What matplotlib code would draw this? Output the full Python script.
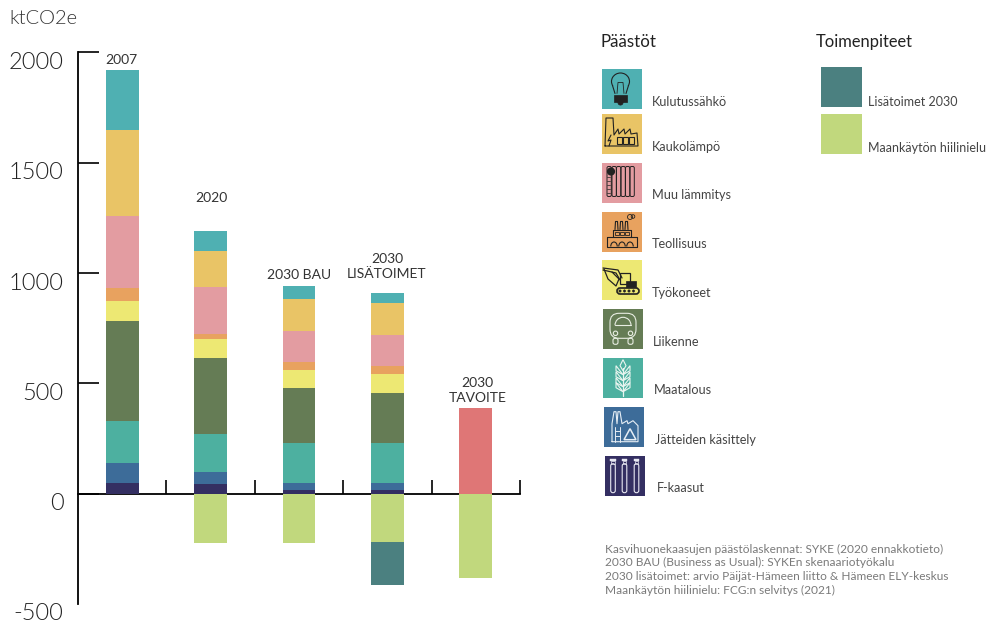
import matplotlib
matplotlib.use('Agg')
import matplotlib.pyplot as plt
from matplotlib import font_manager
from matplotlib.patches import Rectangle, Circle, FancyBboxPatch, Arc, Polygon
from matplotlib.transforms import ScaledTranslation

plt.rcParams['font.family'] = ['Lato', 'DejaVu Sans']
plt.rcParams['axes.unicode_minus'] = False

# Lato Light if its file is there, "light" by weight picks the hairline cut
light_files = [f.fname for f in font_manager.fontManager.ttflist
               if f.name == 'Lato' and f.fname.endswith('Lato-Light.ttf')]
if light_files:
    light_font = font_manager.FontProperties(fname=light_files[0])
else:
    light_font = font_manager.FontProperties(family='Lato')

# Data (ktCO2e)
categories = ['2007', '2020', '2030 BAU', '2030\nLISÄTOIMET', '2030\nTAVOITE']
sectors = ['F-kaasut', 'Jätteiden käsittely', 'Maatalous', 'Liikenne', 'Työkoneet',
           'Teollisuus', 'Muu lämmitys', 'Kaukolämpö', 'Kulutussähkö']
f_kaasut = [48, 43, 17, 17, 0]
jatteet = [91, 54, 33, 33, 0]
maatalous = [192, 172, 180, 180, 0]
liikenne = [451, 345, 251, 227, 0]
tyokoneet = [92, 86, 82, 86, 0]
teollisuus = [59, 24, 35, 36, 0]
muu_lammitys = [327, 213, 141, 141, 0]
kaukolampo = [390, 165, 145, 144, 0]
kulutussahko = [272, 91, 59, 47, 0]
tavoite = [0, 0, 0, 0, 387]
hiilinielu = [0, -222, -222, -219, -384]
lisatoimet = [0, 0, 0, -195, 0]
yticks = [-500, 0, 500, 1000, 1500, 2000]

sector_values = [f_kaasut, jatteet, maatalous, liikenne, tyokoneet,
                 teollisuus, muu_lammitys, kaukolampo, kulutussahko]
sector_colors = ['#342F62', '#3D6C99', '#4DB0A0', '#657C55', '#EDE873',
                 '#E8A25F', '#E39CA1', '#E9C466', '#4FB0B2']
red = '#DF7676'
green = '#C1D87D'
teal = '#4B8080'
dark = '#333333'

W, H = 986, 624
fig = plt.figure(figsize=(W / 100, H / 100), dpi=100)
ax = fig.add_axes([78 / W, 1 - 604 / H, 442 / W, 551.5 / H])

# Stacked bars
x = list(range(len(categories)))
bar_w = 0.373
bottom = [0] * len(x)
for vals, col in zip(sector_values, sector_colors):
    ax.bar(x, vals, bar_w, bottom=bottom, color=col, zorder=3)
    bottom = [b + v for b, v in zip(bottom, vals)]
ax.bar(x, tavoite, bar_w, color=red, zorder=3)
ax.bar(x, hiilinielu, bar_w, color=green, zorder=3)
ax.bar(x, lisatoimet, bar_w, bottom=hiilinielu, color=teal, zorder=3)

ax.set_xlim(-0.5, 4.5)
ax.set_ylim(-500, 2000)
for s in ['top', 'right']:
    ax.spines[s].set_visible(False)
ax.spines['left'].set_linewidth(1.3)
ax.spines['bottom'].set_position(('data', 0))
ax.spines['bottom'].set_linewidth(1.3)
ax.spines['bottom'].set_zorder(2)
ax.set_xticks([0.5, 1.5, 2.5, 3.5, 4.5])
ax.set_xticklabels([])
ax.tick_params(axis='x', direction='in', length=10, width=1.2)
ax.set_yticks(yticks)
ax.tick_params(axis='y', direction='in', length=15, width=1.2, pad=10.5, labelcolor='#222222')
for tick, val in zip(ax.yaxis.get_major_ticks(), yticks):
    if val == -500:
        tick.tick1line.set_visible(False)
for lab in ax.get_yticklabels():
    lab.set_fontproperties(light_font)
    lab.set_fontsize(17)
    lab.set_transform(lab.get_transform() + ScaledTranslation(0, -8 / 100, fig.dpi_scale_trans))

# Category labels above the bars
label_gaps = [10, 33, 11, 26, 18]
label_shift = [-1, 0.5, 0, -0.5, 1.5]
totals = [b + t for b, t in zip(bottom, tavoite)]
for i, name in enumerate(categories):
    ax.annotate(name, (i, totals[i]), xytext=(label_shift[i], label_gaps[i]),
                textcoords='offset pixels', ha='center', va='center',
                fontsize=10, color=dark, linespacing=1.33)

# Overlay in pixel coordinates for unit label, legend and sources
ov = fig.add_axes([0, 0, 1, 1], zorder=5)
ov.set_xlim(0, W)
ov.set_ylim(H, 0)
ov.axis('off')
ov.patch.set_alpha(0)

ktco2 = ov.text(9, 18, 'ktCO2e', color=dark, va='center')
ktco2.set_fontproperties(light_font)
ktco2.set_fontsize(14.5)
ov.text(601, 42, 'Päästöt', fontsize=12.2, color='#222222', va='center')
ov.text(816, 42, 'Toimenpiteet', fontsize=11.9, color='#222222', va='center')


def ln(ox, oy, pts, col, lw=0.8):
    ov.plot([ox + p[0] for p in pts], [oy + p[1] for p in pts], color=col, lw=lw,
            solid_capstyle='round', solid_joinstyle='round')


def rr(ox, oy, x0, y0, w, h, col, lw=0.8, r=1.5):
    ov.add_patch(FancyBboxPatch((ox + x0, oy + y0), w, h, boxstyle=f'round,pad=0,rounding_size={r}',
                                fc='none', ec=col, lw=lw))


def icon_bulb(ox, oy):
    k = '#222222'
    ov.add_patch(Arc((ox + 18.5, oy + 13), 18, 17, theta1=150, theta2=390, ec=k, lw=0.8))
    ln(ox, oy, [(10.5, 17), (13, 25)], k)
    ln(ox, oy, [(26.5, 17), (24, 25)], k)
    ln(ox, oy, [(15, 25), (16, 14), (21, 14), (22, 25)], k, 0.6)
    ov.add_patch(Rectangle((ox + 12, oy + 26), 13, 7, fc=k, ec=k, lw=0.5))
    ov.add_patch(Circle((ox + 18.5, oy + 34), 2.6, fc=k, ec=k, lw=0.5))


def icon_factory(ox, oy):
    k = '#222222'
    ln(ox, oy, [(3, 32), (4, 4), (11, 4), (12, 21), (16, 15), (17, 20), (22, 15), (23, 20),
                (28, 15), (29, 20), (35, 19), (36, 32), (3, 32)], k)
    for wx in [15, 21, 27]:
        ov.add_patch(Rectangle((ox + wx, oy + 23), 4.6, 7, fc='none', ec=k, lw=0.8))
    ln(ox, oy, [(9, 21), (6, 27), (9, 26), (7, 32)], k, 0.8)


def icon_radiator(ox, oy):
    k = '#222222'
    for rx in [5, 10, 14.5, 19, 23.5, 28]:
        rr(ox, oy, rx, 4, 4.3, 30, k, 0.7, 1.5)
    ov.add_patch(Circle((ox + 9, oy + 9), 3.4, fc=k, ec=k))
    for my in [14, 18, 22, 26, 30]:
        ln(ox, oy, [(5, my), (8, my)], k, 0.5)


def icon_industry(ox, oy):
    k = '#222222'
    ln(ox, oy, [(5, 25), (5, 35), (35, 35), (35, 25), (5, 25)], k)
    for ax_ in [12, 20, 28]:
        ov.add_patch(Arc((ox + ax_, oy + 35), 6.5, 9, theta1=180, theta2=360, ec=k, lw=0.8))
    ln(ox, oy, [(11, 25), (11, 18), (29, 18), (29, 25)], k)
    for bx in [13, 18, 23]:
        ov.add_patch(Rectangle((ox + bx, oy + 20), 3.5, 3, fc='none', ec=k, lw=0.6))
    for cx in [13, 18, 23]:
        ln(ox, oy, [(cx, 18), (cx + 0.5, 10), (cx + 2.5, 10), (cx + 3, 18)], k)
    ov.add_patch(Circle((ox + 28, oy + 5.5), 2.5, fc='none', ec=k, lw=0.6))
    ov.add_patch(Circle((ox + 31, oy + 5), 1.8, fc='none', ec=k, lw=0.6))


def icon_excavator(ox, oy):
    k = '#222222'
    ov.add_patch(Rectangle((ox + 18, oy + 13), 10, 11, fc='none', ec=k, lw=0.9))
    ov.add_patch(Rectangle((ox + 24, oy + 21), 10, 6, fc=k, ec=k, lw=0.5))
    rr(ox, oy, 15, 28, 22, 6, k, 1.2, 3)
    for wx in [18, 22.5, 27, 31.5]:
        ov.add_patch(Circle((ox + wx, oy + 31), 1.2, fc=k, ec=k, lw=0.3))
    ln(ox, oy, [(1, 8), (16, 10), (20, 18)], k, 0.9)
    ln(ox, oy, [(1, 10), (14, 13), (18, 20)], k, 0.9)
    ln(ox, oy, [(2, 9), (6, 19), (14, 26), (17, 19), (10, 12)], k, 0.9)


def icon_bus(ox, oy):
    w = '#E8EDE2'
    rr(ox, oy, 7, 4, 26, 25, w, 0.8, 9)
    ln(ox, oy, [(12, 16), (28, 16)], w, 0.8)
    ov.add_patch(Arc((ox + 20, oy + 16), 16, 16, theta1=180, theta2=360, ec=w, lw=0.8))
    for cx in [12.5, 27.5]:
        ov.add_patch(Circle((ox + cx, oy + 24), 2.2, fc='none', ec=w, lw=0.8))
        rr(ox, oy, cx - 2.5, 29, 5, 6, w, 0.8, 2)


def icon_wheat(ox, oy):
    w = '#EAF5F0'
    ln(ox, oy, [(20, 38), (20, 10)], w, 0.9)
    ov.add_patch(Polygon([(ox + 20, oy + 2), (ox + 23, oy + 8), (ox + 20, oy + 13), (ox + 17, oy + 8)],
                         closed=True, fc='none', ec=w, lw=0.8))
    for ly in [10, 16, 22, 27]:
        ov.add_patch(Polygon([(ox + 20, oy + ly + 7), (ox + 13, oy + ly + 3), (ox + 13, oy + ly - 2)],
                             closed=True, fc='none', ec=w, lw=0.8))
        ov.add_patch(Polygon([(ox + 20, oy + ly + 7), (ox + 27, oy + ly + 3), (ox + 27, oy + ly - 2)],
                             closed=True, fc='none', ec=w, lw=0.8))


def icon_waste(ox, oy):
    w = '#E6EEF5'
    ln(ox, oy, [(8, 35), (8, 17), (10, 5), (12, 5), (13, 17), (14, 5), (16, 5), (18, 17), (23, 14),
                (24, 17), (29, 14), (34, 19), (34, 35), (8, 35)], w, 0.8)
    ln(ox, oy, [(11, 20), (11, 35)], w, 0.7)
    ln(ox, oy, [(16, 20), (16, 35)], w, 0.7)
    for ry in [24, 29]:
        ln(ox, oy, [(11, ry), (16, ry)], w, 0.7)
    ov.add_patch(Polygon([(ox + 26, oy + 22), (ox + 32, oy + 33), (ox + 20, oy + 33)],
                         closed=True, fc='none', ec=w, lw=1.1))


def icon_tubes(ox, oy):
    w = '#E8E8F2'
    for tx in [8.5, 20, 32]:
        ov.add_patch(FancyBboxPatch((ox + tx - 2.3, oy + 8), 4.6, 29,
                                    boxstyle='round,pad=0,rounding_size=2.2', fc='none', ec=w, lw=0.8))
        ov.add_patch(Rectangle((ox + tx - 2.6, oy + 3), 5.2, 2, fc=w, ec=w, lw=0.3))
        ov.add_patch(Rectangle((ox + tx - 1.6, oy + 5), 3.2, 3, fc='none', ec=w, lw=0.5))


legend_names = sectors[::-1]
legend_colors = sector_colors[::-1]
legend_icons = [icon_bulb, icon_factory, icon_radiator, icon_industry, icon_excavator,
                icon_bus, icon_wheat, icon_waste, icon_tubes]
box_x = [602, 602, 602, 602, 602, 603, 603, 604, 604.5]
box_y = [68.5, 114, 162.5, 211.5, 260, 309.3, 357.7, 406.7, 455.7]
text_x = [652, 652, 652, 652, 652, 653, 653.5, 655, 657]
text_y = [102.5, 147, 195, 244, 293, 341.5, 390.5, 439.5, 488.5]
for name, col, icon, bx, by, tx, ty in zip(legend_names, legend_colors, legend_icons,
                                           box_x, box_y, text_x, text_y):
    ov.add_patch(Rectangle((bx, by), 40, 40, fc=col, ec='none'))
    icon(bx, by)
    ov.text(tx, ty, name, fontsize=9.1, color='#444444', va='center')

ov.add_patch(Rectangle((821, 67), 40.5, 40, fc=teal, ec='none'))
ov.add_patch(Rectangle((821, 114), 40.5, 40, fc=green, ec='none'))
ov.text(868, 102.5, 'Lisätoimet 2030', fontsize=9, color='#444444', va='center')
ov.text(868, 147.5, 'Maankäytön hiilinielu', fontsize=9, color='#444444', va='center')

sources = ['Kasvihuonekaasujen päästölaskennat: SYKE (2020 ennakkotieto)',
           '2030 BAU (Business as Usual): SYKEn skenaariotyökalu',
           '2030 lisätoimet: arvio Päijät-Hämeen liitto & Hämeen ELY-keskus',
           'Maankäytön hiilinielu: FCG:n selvitys (2021)']
for line, sy in zip(sources, [549, 562.5, 576, 590]):
    ov.text(605, sy, line, fontsize=8.6, color='#7A7A7A', va='center')

fig.savefig('out.png', dpi=100)
